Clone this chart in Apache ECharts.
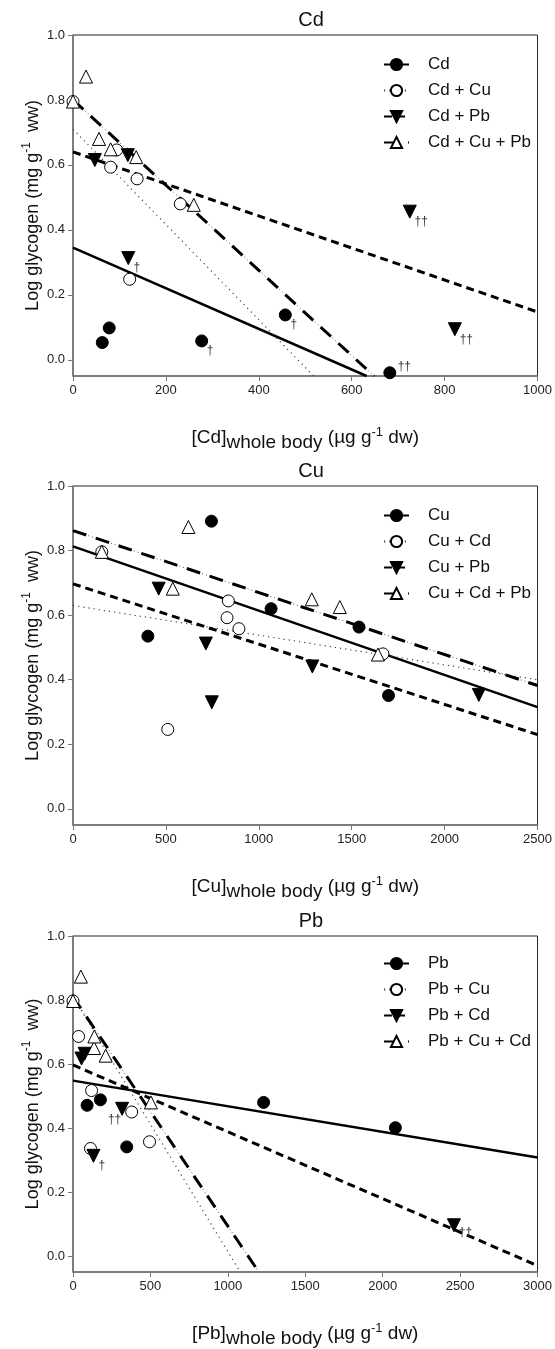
<!DOCTYPE html>
<html><head><meta charset="utf-8">
<script src="https://cdn.jsdelivr.net/npm/echarts@6/dist/echarts.min.js"></script>
<style>html,body{margin:0;padding:0;background:#fff}#c{width:555px;height:1349px}</style>
</head><body><div id="c"></div><script>
// ---------- DATA ----------
// Panel Cd
const cd_Cd_x = [63, 78, 277, 457, 682];
const cd_Cd_y = [0.053, 0.098, 0.058, 0.138, -0.040];
const cd_Cd_marks = ['', '', '†', '†', '††'];
const cd_CdCu_x = [0, 81, 94, 122, 138, 231];
const cd_CdCu_y = [0.795, 0.593, 0.646, 0.248, 0.557, 0.480];
const cd_CdPb_x = [47, 118, 119, 725, 822];
const cd_CdPb_y = [0.615, 0.630, 0.313, 0.456, 0.094];
const cd_CdPb_marks = ['', '', '†', '††', '††'];
const cd_CdCuPb_x = [0, 28, 56, 81, 136, 260];
const cd_CdCuPb_y = [0.795, 0.872, 0.680, 0.648, 0.624, 0.477];
const cd_fit_Cd = [[0, 632], [0.345, -0.05]];
const cd_fit_CdCu = [[0, 518], [0.71, -0.05]];
const cd_fit_CdPb = [[0, 1000], [0.64, 0.147]];
const cd_fit_CdCuPb = [[0, 648], [0.80, -0.05]];
// Panel Cu
const cu_Cu_x = [403, 745, 1066, 1539, 1698];
const cu_Cu_y = [0.535, 0.891, 0.620, 0.563, 0.351];
const cu_CuCd_x = [155, 510, 829, 836, 893, 1668];
const cu_CuCd_y = [0.796, 0.246, 0.592, 0.644, 0.558, 0.480];
const cu_CuPb_x = [461, 715, 747, 1288, 2184];
const cu_CuPb_y = [0.682, 0.512, 0.330, 0.441, 0.353];
const cu_CuCdPb_x = [155, 537, 621, 1285, 1436, 1641];
const cu_CuCdPb_y = [0.796, 0.682, 0.873, 0.649, 0.625, 0.478];
const cu_fit_Cu = [[0, 2500], [0.813, 0.315]];
const cu_fit_CuCd = [[0, 2500], [0.63, 0.40]];
const cu_fit_CuPb = [[0, 2500], [0.697, 0.23]];
const cu_fit_CuCdPb = [[0, 2500], [0.862, 0.382]];
// Panel Pb
const pb_Pb_x = [91, 177, 347, 1231, 2082];
const pb_Pb_y = [0.471, 0.488, 0.341, 0.480, 0.401];
const pb_PbCu_x = [0, 36, 113, 120, 379, 494];
const pb_PbCu_y = [0.797, 0.686, 0.336, 0.517, 0.450, 0.357];
const pb_PbCd_x = [55, 75, 132, 317, 2460];
const pb_PbCd_y = [0.617, 0.632, 0.313, 0.460, 0.096];
const pb_PbCd_marks = ['', '', '†', '††', '††'];
const pb_PbCuCd_x = [0, 51, 136, 138, 211, 503];
const pb_PbCuCd_y = [0.797, 0.873, 0.650, 0.686, 0.626, 0.480];
const pb_fit_Pb = [[0, 3000], [0.548, 0.308]];
const pb_fit_PbCu = [[0, 1080], [0.81, -0.05]];
const pb_fit_PbCd = [[0, 3000], [0.597, -0.03]];
const pb_fit_PbCuCd = [[0, 1200], [0.81, -0.05]];

const yTicks = [0, 0.2, 0.4, 0.6, 0.8, 1.0];
const cdTicks = [0, 200, 400, 600, 800, 1000];
const cuTicks = [0, 500, 1000, 1500, 2000, 2500];
const pbTicks = [0, 500, 1000, 1500, 2000, 2500, 3000];

// ---------- LAYOUT / STYLE ----------
const FONT = 'Liberation Sans, Arial, Helvetica, sans-serif';
const SYM = {
  fc: {symbol: 'circle', size: 12, rotate: 0, item: {color: '#000', borderColor: '#000', borderWidth: 1, opacity: 1}},
  oc: {symbol: 'circle', size: 12, rotate: 0, item: {color: '#fff', borderColor: '#000', borderWidth: 1, opacity: 1}},
  ft: {symbol: 'triangle', size: 13, rotate: 180, item: {color: '#000', borderColor: '#000', borderWidth: 1, opacity: 1}},
  ot: {symbol: 'triangle', size: 13, rotate: 0, item: {color: '#fff', borderColor: '#000', borderWidth: 1, opacity: 1}}
};
const LINE = {
  solid: {type: 'solid', width: 2.5, color: '#000'},
  dot: {type: [1.2, 4], width: 1.2, color: '#444'},
  dash: {type: [8, 5], width: 3, color: '#000'},
  dashdot: {type: [14, 10], width: 3, color: '#000'}
};
const markOffsets = {'Cd-4': [15, -6], 'Cd + Pb-3': [12, 11], 'Cd + Pb-4': [12, 11], 'Pb + Cd-3': [-7, 11], 'Pb + Cd-4': [12, 8]};

const panels = [
  {title: 'Cd', metal: 'Cd', top: 35, height: 341, xMax: 1000, xTicks: cdTicks, titleTop: 5, legendTop: 51,
    groups: [
      {name: 'Cd', x: cd_Cd_x, y: cd_Cd_y, marks: cd_Cd_marks, fit: cd_fit_Cd, sym: 'fc', line: 'solid'},
      {name: 'Cd + Cu', x: cd_CdCu_x, y: cd_CdCu_y, fit: cd_fit_CdCu, sym: 'oc', line: 'dot'},
      {name: 'Cd + Pb', x: cd_CdPb_x, y: cd_CdPb_y, marks: cd_CdPb_marks, fit: cd_fit_CdPb, sym: 'ft', line: 'dash'},
      {name: 'Cd + Cu + Pb', x: cd_CdCuPb_x, y: cd_CdCuPb_y, fit: cd_fit_CdCuPb, sym: 'ot', line: 'dashdot'}
    ]},
  {title: 'Cu', metal: 'Cu', top: 486, height: 339, xMax: 2500, xTicks: cuTicks, titleTop: 456, legendTop: 502,
    groups: [
      {name: 'Cu', x: cu_Cu_x, y: cu_Cu_y, fit: cu_fit_Cu, sym: 'fc', line: 'solid'},
      {name: 'Cu + Cd', x: cu_CuCd_x, y: cu_CuCd_y, fit: cu_fit_CuCd, sym: 'oc', line: 'dot'},
      {name: 'Cu + Pb', x: cu_CuPb_x, y: cu_CuPb_y, fit: cu_fit_CuPb, sym: 'ft', line: 'dash'},
      {name: 'Cu + Cd + Pb', x: cu_CuCdPb_x, y: cu_CuCdPb_y, fit: cu_fit_CuCdPb, sym: 'ot', line: 'dashdot'}
    ]},
  {title: 'Pb', metal: 'Pb', top: 936, height: 339, xMax: 3000, xTicks: pbTicks, titleTop: 906, legendTop: 950,
    groups: [
      {name: 'Pb', x: pb_Pb_x, y: pb_Pb_y, fit: pb_fit_Pb, sym: 'fc', line: 'solid'},
      {name: 'Pb + Cu', x: pb_PbCu_x, y: pb_PbCu_y, fit: pb_fit_PbCu, sym: 'oc', line: 'dot'},
      {name: 'Pb + Cd', x: pb_PbCd_x, y: pb_PbCd_y, marks: pb_PbCd_marks, fit: pb_fit_PbCd, sym: 'ft', line: 'dash'},
      {name: 'Pb + Cu + Cd', x: pb_PbCuCd_x, y: pb_PbCuCd_y, fit: pb_fit_PbCuCd, sym: 'ot', line: 'dashdot'}
    ]}
];

const grid = [], xAxis = [], yAxis = [], title = [], legend = [], series = [];
panels.forEach((p, pi) => {
  grid.push({left: 73, width: 467, top: p.top, height: p.height, show: true, borderColor: '#222', borderWidth: 1, backgroundColor: 'transparent'});
  title.push({text: p.title, left: 306, top: p.titleTop, textAlign: 'center',
    textStyle: {fontFamily: FONT, fontSize: 20, fontWeight: 'normal', color: '#111'}});
  xAxis.push({type: 'value', gridIndex: pi, min: 0, max: p.xMax,
    name: '{a|[' + p.metal + ']}{s|whole body}{a| (µg g}{p|-1}{a| dw)}',
    nameLocation: 'middle', nameGap: 48, nameMoveOverlap: false,
    nameTextStyle: {rich: {
      a: {fontFamily: FONT, fontSize: 19, color: '#111'},
      s: {fontFamily: FONT, fontSize: 19, color: '#111', padding: [9, 0, 0, 0]},
      p: {fontFamily: FONT, fontSize: 13, color: '#111', padding: [0, 0, 12, 0]}
    }},
    axisLine: {show: true, onZero: false, lineStyle: {color: '#777', width: 1.5}},
    axisTick: {show: true, length: 5, customValues: p.xTicks, lineStyle: {color: '#777'}},
    axisLabel: {customValues: p.xTicks, formatter: v => String(v), fontFamily: FONT, fontSize: 13, color: '#222', margin: 8},
    splitLine: {show: false}
  });
  yAxis.push({type: 'value', gridIndex: pi, min: -0.05, max: 1.0,
    name: '{a|Log glycogen (mg g}{p|-1}{a|  ww)}',
    nameLocation: 'middle', nameGap: 28, nameRotate: 90, nameMoveOverlap: false,
    nameTextStyle: {rich: {
      a: {fontFamily: FONT, fontSize: 18, color: '#111'},
      p: {fontFamily: FONT, fontSize: 12, color: '#111', padding: [0, 0, 12, 0]}
    }},
    axisLine: {show: true, onZero: false, lineStyle: {color: '#777', width: 1.5}},
    axisTick: {show: true, length: 5, customValues: yTicks, lineStyle: {color: '#777'}},
    axisLabel: {customValues: yTicks, formatter: v => v.toFixed(1), fontFamily: FONT, fontSize: 13, color: '#222', margin: 8},
    splitLine: {show: false}
  });
  legend.push({orient: 'vertical', left: 378, top: p.legendTop, itemWidth: 25, itemHeight: 14, itemGap: 9,
    data: p.groups.map(g => g.name),
    textStyle: {fontFamily: FONT, fontSize: 17, color: '#111', padding: [0, 0, 0, 14]},
    selectedMode: false});
  p.groups.forEach(g => {
    const s = SYM[g.sym];
    if (g.line === 'dashdot') {
      series.push({type: 'line', xAxisIndex: pi, yAxisIndex: pi, silent: true, showSymbol: false, symbol: 'none',
        data: g.fit[0].map((x, i) => [x, g.fit[1][i]]), lineStyle: {type: [1, 3], width: 1, color: '#555'}, z: 1, clip: false});
    }
    series.push({type: 'line', name: g.name, xAxisIndex: pi, yAxisIndex: pi, silent: true,
      data: g.fit[0].map((x, i) => [x, g.fit[1][i]]),
      showSymbol: false, symbol: s.symbol, symbolSize: s.size, symbolRotate: s.rotate,
      itemStyle: s.item, lineStyle: LINE[g.line], z: 2, clip: false});
    series.push({type: 'scatter', name: g.name, xAxisIndex: pi, yAxisIndex: pi, clip: false,
      symbol: s.symbol, symbolSize: s.size, symbolRotate: s.rotate, itemStyle: s.item, z: 5,
      data: g.x.map((x, i) => {
        const m = g.marks ? g.marks[i] : '';
        const off = markOffsets[g.name + '-' + i] || [9, 10];
        return {value: [x, g.y[i]], label: {show: !!m, formatter: m, position: [s.size / 2 + off[0], s.size / 2 + off[1]],
          align: 'center', verticalAlign: 'middle', fontFamily: FONT, fontSize: 12, color: '#333'}};
      })});
  });
});

const chart = echarts.init(document.getElementById('c'), null, {renderer: 'canvas'});
chart.setOption({backgroundColor: '#fff', animation: false, grid, xAxis, yAxis, title, legend, series});
</script></body></html>
